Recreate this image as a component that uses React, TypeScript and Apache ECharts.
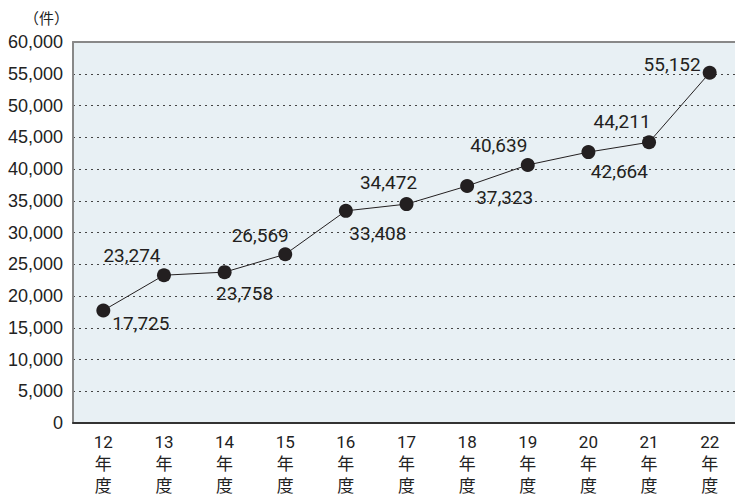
import React, { useEffect, useRef } from "react";
import * as echarts from "echarts";

const categories = ["12", "13", "14", "15", "16", "17", "18", "19", "20", "21", "22"];
const values = [17725, 23274, 23758, 26569, 33408, 34472, 37323, 40639, 42664, 44211, 55152];
const yTicks = { min: 0, max: 60000, interval: 5000 };
const unitLabel = "（件）";

// label placement per point: [position, offsetX, offsetY]
const labelPlacement: [string, number, number][] = [
  ["right", 0, 13],
  ["top", -32, 2],
  ["bottom", 20, 0],
  ["top", -25, 3],
  ["bottom", 32, 1],
  ["top", -18, 0],
  ["right", 0, 12],
  ["top", -29, 2],
  ["bottom", 31, -2],
  ["top", -27, 1],
  ["left", 0, -8],
];

export default function App() {
  const ref = useRef<HTMLDivElement>(null);
  useEffect(() => {
    if (!ref.current) return;
    const chart = echarts.init(ref.current, null, { renderer: "svg" });
    const data = values.map((v, i) => ({
      value: v,
      label: {
        position: labelPlacement[i][0] as any,
        offset: [labelPlacement[i][1], labelPlacement[i][2]],
        distance: labelPlacement[i][0] === "left" || labelPlacement[i][0] === "right" ? 2 : 5,
      },
    }));
    chart.setOption({
      animation: false,
      backgroundColor: "#ffffff",
      title: {
        text: unitLabel,
        left: 19,
        top: 5,
        textStyle: { fontSize: 15, fontWeight: "normal", color: "#222", fontFamily: "Noto Sans CJK JP" },
      },
      grid: {
        left: 73,
        top: 42,
        width: 667,
        bottom: 74,
        show: true,
        backgroundColor: "#e8f0f4",
        borderWidth: 0,
        outerBoundsMode: "none",
        containLabel: false,
      },
      xAxis: [
        {
          type: "category",
          data: categories,
          boundaryGap: true,
          axisLine: { show: true, lineStyle: { color: "#333", width: 2 } },
          axisTick: { show: false },
          axisLabel: {
            margin: 8,
            color: "#222",
            fontSize: 17,
            lineHeight: 22,
            fontFamily: "Roboto, Noto Sans CJK JP, sans-serif",
            formatter: (v: string) => `${v}\n年\n度`,
          },
        },
        {
          type: "category",
          data: categories,
          position: "top",
          axisLine: { show: true, lineStyle: { color: "#888", width: 2 } },
          axisTick: { show: false },
          axisLabel: { show: false },
        },
      ],
      yAxis: {
        type: "value",
        min: yTicks.min,
        max: yTicks.max,
        interval: yTicks.interval,
        axisLine: { show: true, lineStyle: { color: "#888", width: 2 } },
        axisTick: { show: false },
        axisLabel: {
          margin: 10,
          color: "#222",
          fontSize: 18,
          fontFamily: "Liberation Sans, Arial, sans-serif",
          formatter: (v: number) => v.toLocaleString("en-US"),
        },
        splitLine: { show: true, lineStyle: { color: "#444", type: [2, 4], width: 1 } },
      },
      series: [
        {
          type: "line",
          data,
          symbol: "circle",
          symbolSize: 14,
          itemStyle: { color: "#231f20" },
          lineStyle: { color: "#231f20", width: 1 },
          label: {
            show: true,
            color: "#231f20",
            fontSize: 19,
            fontFamily: "Roboto, sans-serif",
            formatter: (p: any) => Number(p.value).toLocaleString("en-US"),
          },
        },
      ],
    });
    return () => chart.dispose();
  }, []);
  return <div ref={ref} style={{ width: 735, height: 497, position: "absolute", left: 0, top: 0 }} />;
}
